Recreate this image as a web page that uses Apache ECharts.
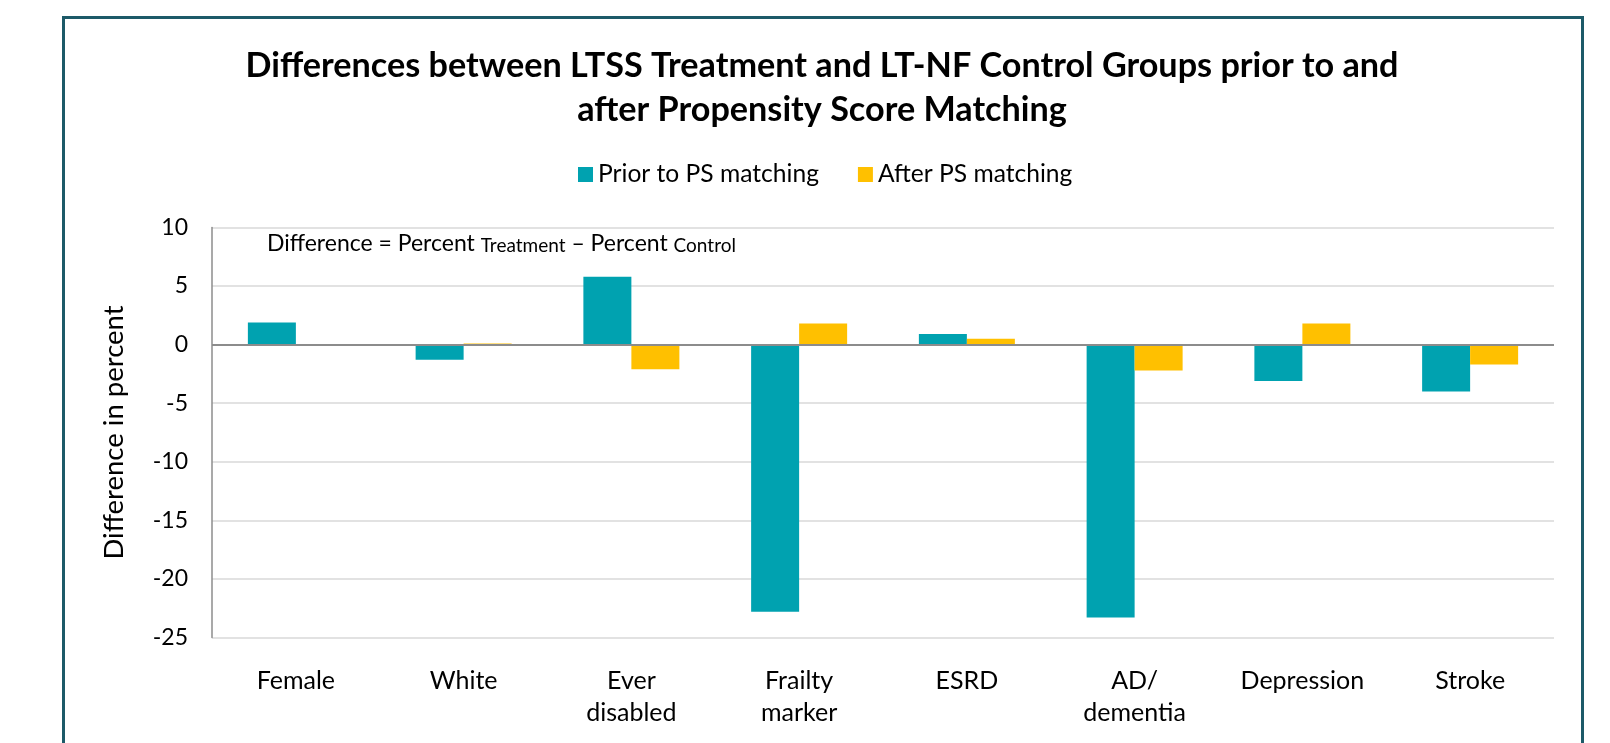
<!DOCTYPE html>
<html>
<head>
<meta charset="utf-8">
<script src="https://cdn.jsdelivr.net/npm/echarts@6/dist/echarts.min.js"></script>
<style>
html,body{margin:0;padding:0;background:#fff;}
#chart{width:1610px;height:743px;}
</style>
</head>
<body>
<div id="chart"></div>
<script>
const titleText = 'Differences between LTSS Treatment and LT-NF Control Groups prior to and\nafter Propensity Score Matching';
const categories = ['Female', 'White', 'Ever\ndisabled', 'Frailty\nmarker', 'ESRD', 'AD/\ndementia', 'Depression', 'Stroke'];
const seriesNames = ['Prior to PS matching', 'After PS matching'];
const priorValues = [1.9, -1.3, 5.8, -22.8, 0.9, -23.3, -3.1, -4.0];
const afterValues = [0.05, 0.1, -2.1, 1.8, 0.5, -2.2, 1.8, -1.7];
const yMin = -25, yMax = 10, yStep = 5;
const yAxisName = 'Difference in percent';

const FONT = 'Lato, "Liberation Sans", sans-serif';
const chart = echarts.init(document.getElementById('chart'), null, {renderer: 'canvas'});
chart.setOption({
  backgroundColor: '#ffffff',
  animation: false,
  title: {
    text: titleText,
    left: 817,
    textAlign: 'center',
    top: 39,
    textStyle: {fontFamily: FONT, fontWeight: 'bold', fontSize: 34.2, lineHeight: 44, color: '#000'}
  },
  legend: {
    data: seriesNames,
    left: 573,
    top: 157,
    itemWidth: 15,
    itemHeight: 15,
    itemGap: 39,
    icon: 'rect',
    textStyle: {fontFamily: FONT, fontSize: 24.6, color: '#000'}
  },
  grid: {left: 212, right: 56, top: 227.5, bottom: 105.5, containLabel: false},
  xAxis: {
    type: 'category',
    data: categories,
    axisLine: {show: false, onZero: false},
    axisTick: {show: false},
    axisLabel: {fontFamily: FONT, fontSize: 25, lineHeight: 32, color: '#000', margin: 27, interval: 0}
  },
  yAxis: {
    type: 'value',
    min: yMin, max: yMax, interval: yStep,
    name: yAxisName,
    nameLocation: 'middle',
    nameGap: 84,
    nameTextStyle: {fontFamily: FONT, fontSize: 27.5, color: '#000'},
    axisLine: {show: true, lineStyle: {color: '#8c8c8c', width: 1.5}},
    axisTick: {show: false},
    axisLabel: {fontFamily: FONT, fontSize: 23, color: '#000', margin: 24},
    splitLine: {lineStyle: {color: '#d9d9d9', width: 1.5}}
  },
  series: [
    {
      name: seriesNames[0], type: 'bar', data: priorValues,
      barWidth: 48, barGap: '0%',
      itemStyle: {color: '#00a2b0'},
      markLine: {
        silent: true, symbol: 'none', label: {show: false},
        lineStyle: {color: '#8c8c8c', width: 2, type: 'solid'},
        data: [{yAxis: 0}]
      },
      z: 2
    },
    {
      name: seriesNames[1], type: 'bar', data: afterValues,
      barWidth: 48,
      itemStyle: {color: '#ffc000'},
      z: 2
    }
  ],
  graphic: [
    {
      type: 'rect', silent: true, z: 100,
      shape: {x: 63.5, y: 17.5, width: 1519, height: 800},
      style: {fill: 'none', stroke: '#1d5a68', lineWidth: 3}
    },
    {
      type: 'text', left: 267, top: 232, z: 50,
      style: {
        text: '{a|Difference = Percent }{s|Treatment}{a| – Percent }{s|Control}',
        rich: {
          a: {fontFamily: FONT, fontSize: 23, color: '#000', lineHeight: 28, verticalAlign: 'bottom'},
          s: {fontFamily: FONT, fontSize: 19, color: '#000', lineHeight: 18, verticalAlign: 'bottom'}
        }
      }
    }
  ]
});
</script>
</body>
</html>
